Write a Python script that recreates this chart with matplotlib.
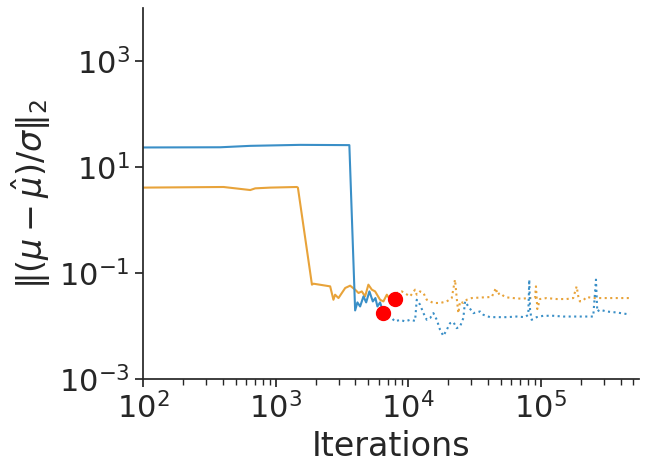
import matplotlib
matplotlib.use("Agg")
import matplotlib.pyplot as plt
import matplotlib.ticker as mticker
import seaborn as sns

sns.set_theme(style="ticks", font_scale=2)
plt.rcParams['font.family'] = ['DejaVu Sans']

# ---- data ----
blue_solid_x = [100, 383, 644, 1530, 3600, 3980, 4140, 4340, 4600, 4820, 5100,
                5410, 5660, 5860, 6140, 6500]
blue_solid_y = [23.4, 23.6, 25.1, 26.2, 25.9, 0.0197, 0.0279, 0.0234, 0.0362,
                0.0279, 0.0450, 0.0291, 0.0337, 0.0234, 0.0279, 0.0175]

blue_dot_x = [6500, 7310, 7960, 8690, 9480, 10330, 11270, 11600, 12300, 13030,
              13810, 14630, 15490, 16430, 17400, 18410, 19530, 20690, 21920,
              23230, 24610, 26060, 26850, 28430, 30990, 34800, 36900, 41400,
              46500, 55300, 65800, 76000, 80500, 81900, 83000, 85400, 93100,
              104500, 124200, 147800, 175700, 248700, 260800, 266900, 279200,
              313800, 373500, 470000]
blue_dot_y = [0.0175, 0.0151, 0.0122, 0.0131, 0.0122, 0.0131, 0.0125, 0.0313,
              0.0252, 0.0175, 0.0131, 0.0141, 0.0175, 0.0131, 0.00847, 0.00652,
              0.00847, 0.0113, 0.0119, 0.00912, 0.00979, 0.0141, 0.0291, 0.0234,
              0.0175, 0.0188, 0.0163, 0.0147, 0.0147, 0.0147, 0.0151, 0.0147,
              0.0163, 0.0750, 0.0203, 0.0131, 0.0147, 0.0156, 0.0156, 0.0151,
              0.0151, 0.0151, 0.0750, 0.0188, 0.0203, 0.0188, 0.0180, 0.0165]

orange_solid_x = [100, 405, 644, 702, 910, 1445, 1473, 1880, 1930, 2580, 2730,
                  2810, 2980, 3160, 3350, 3650, 3980, 4220, 4470, 4730, 5010,
                  5320, 5630, 6140, 6500, 6900, 7310, 7960]
orange_solid_y = [4.09, 4.20, 3.68, 3.96, 4.09, 4.20, 4.09, 0.0603, 0.0629,
                  0.0560, 0.0313, 0.0390, 0.0337, 0.0420, 0.0522, 0.0577, 0.0485,
                  0.0420, 0.0450, 0.0362, 0.0603, 0.0485, 0.0450, 0.0313, 0.0291,
                  0.0390, 0.0313, 0.0323]

orange_dot_x = [7960, 8200, 8950, 10330, 11270, 11600, 12300, 13030, 13810,
                15490, 17400, 19530, 21300, 22550, 23230, 23900, 24610, 26060,
                27660, 30150, 36900, 42700, 45900, 47000, 49300, 52100, 55300,
                62100, 71800, 80500, 90400, 92000, 94200, 98600, 110700, 131700,
                156700, 175700, 186500, 191900, 197400, 209000, 221600, 248700,
                313800, 395600, 475800]
orange_dot_y = [0.0323, 0.0420, 0.0450, 0.0362, 0.0485, 0.0390, 0.0450, 0.0420,
                0.0313, 0.0272, 0.0272, 0.0291, 0.0337, 0.0750, 0.0337, 0.0175,
                0.0291, 0.0272, 0.0313, 0.0337, 0.0347, 0.0353, 0.0522, 0.0390,
                0.0420, 0.0373, 0.0347, 0.0337, 0.0327, 0.0337, 0.0337, 0.0560,
                0.0209, 0.0323, 0.0337, 0.0323, 0.0323, 0.0337, 0.0560, 0.0362,
                0.0291, 0.0304, 0.0353, 0.0337, 0.0337, 0.0337, 0.0337]

blue = "#3a8fc7"
orange = "#e8a33a"

fig = plt.figure(figsize=(6.48, 4.73), dpi=100)
ax = fig.add_axes([0.2207, 0.1987, 0.7653, 0.7843])

ax.plot(orange_solid_x, orange_solid_y, color=orange, lw=1.5, ls='-')
ax.plot(orange_dot_x, orange_dot_y, color=orange, lw=1.5, ls=':')
ax.plot(blue_solid_x, blue_solid_y, color=blue, lw=1.5, ls='-')
ax.plot(blue_dot_x, blue_dot_y, color=blue, lw=1.5, ls=':')

ax.plot([blue_solid_x[-1]], [blue_solid_y[-1]], 'o', color='red', ms=10, zorder=5)
ax.plot([orange_solid_x[-1]], [orange_solid_y[-1]], 'o', color='red', ms=10, zorder=5)

ax.set_xscale('log')
ax.set_yscale('log')
ax.set_xlim(100, 5.5e5)
ax.set_ylim(1e-3, 1e4)
ax.set_yticks([1e-3, 1e-1, 1e1, 1e3])
ax.yaxis.set_minor_locator(mticker.NullLocator())
ax.set_xlabel('Iterations')
ax.set_ylabel(r'$\|(\mu - \hat{\mu})/\sigma\|_2$')
sns.despine(ax=ax)

fig.savefig('out.png', dpi=100)
